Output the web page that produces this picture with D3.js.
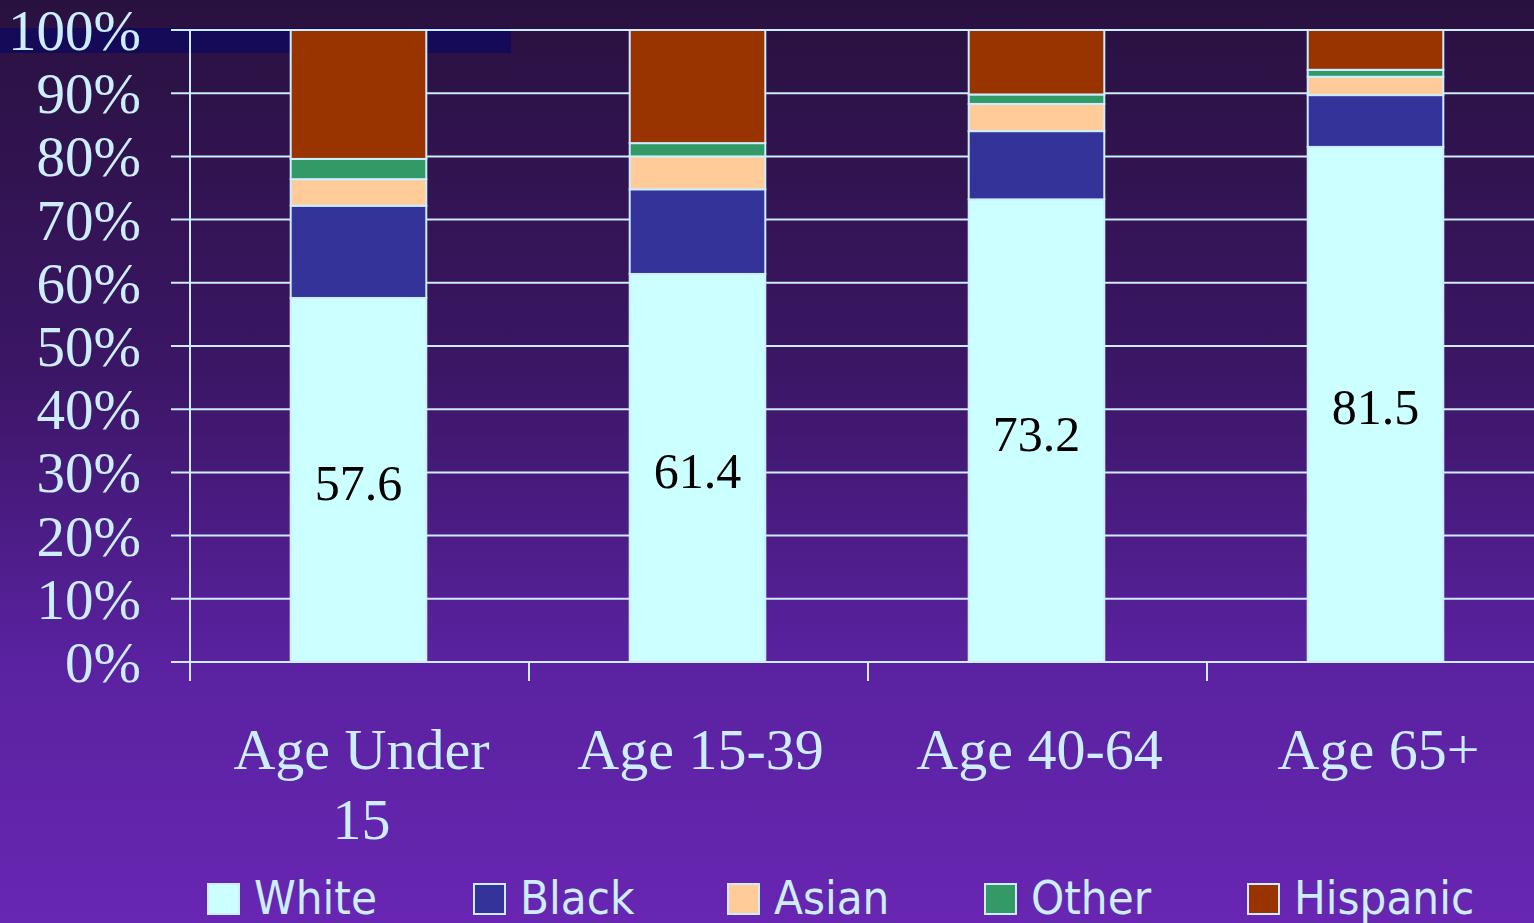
<!DOCTYPE html>
<html>
<head>
<meta charset="utf-8">
<script src="https://cdn.jsdelivr.net/npm/d3@7"></script>
<style>
  html, body { margin: 0; padding: 0; overflow: hidden; }
  svg { display: block; }
</style>
</head>
<body>
<svg id="chart" width="1534" height="923"></svg>
<script>
// Population share by race/ethnicity within each age group (percent)
const categories = [["Age Under", "15"], ["Age 15-39"], ["Age 40-64"], ["Age 65+"]];
const seriesNames = ["White", "Black", "Asian", "Other", "Hispanic"];
const white    = [57.6, 61.4, 73.2, 81.5];
const black    = [14.6, 13.4, 10.8, 8.2];
const asian    = [4.2, 5.2, 4.3, 2.9];
const other    = [3.2, 2.1, 1.5, 1.1];
const hispanic = [20.4, 17.9, 10.2, 6.3];
const yTicks = [0, 10, 20, 30, 40, 50, 60, 70, 80, 90, 100];

const colors = ["#ccffff", "#333399", "#ffcc99", "#339966", "#993300"];
const ink = "#cceeff";
const serif = "'Liberation Serif', 'Times New Roman', serif";

const W = 1534, H = 923;
const svg = d3.select("#chart");

// Background gradient
const defs = svg.append("defs");
const grad = defs.append("linearGradient").attr("id", "bg")
  .attr("x1", 0).attr("y1", 0).attr("x2", 0).attr("y2", 1);
grad.append("stop").attr("offset", "0%").attr("stop-color", "#29113f");
grad.append("stop").attr("offset", "40%").attr("stop-color", "#3b1665");
grad.append("stop").attr("offset", "72%").attr("stop-color", "#5a22a0");
grad.append("stop").attr("offset", "100%").attr("stop-color", "#6826b2");
svg.append("rect").attr("width", W).attr("height", H).attr("fill", "url(#bg)");

// Title band strip behind the top label
svg.append("rect").attr("x", 0).attr("y", 28).attr("width", 511).attr("height", 25)
  .attr("fill", "#150a58");

const rows = categories.map((c, i) => ({
  key: i,
  White: white[i], Black: black[i], Asian: asian[i], Other: other[i], Hispanic: hispanic[i]
}));

const x = d3.scaleBand().domain(d3.range(categories.length))
  .range([189, 1545]).paddingInner(0.6).paddingOuter(0.3);
const y = d3.scaleLinear().domain([0, 100]).range([662, 30]);

// Horizontal gridlines (extend left of the axis as tick marks)
svg.append("g").selectAll("line").data(yTicks).join("line")
  .attr("x1", 171).attr("x2", W)
  .attr("y1", d => y(d)).attr("y2", d => y(d))
  .attr("stroke", ink).attr("stroke-width", 2);

// Y tick labels
svg.append("g").selectAll("text").data(yTicks).join("text")
  .attr("x", 141).attr("y", d => y(d) + 20)
  .attr("text-anchor", "end")
  .attr("font-family", serif)
  .attr("font-size", 57).attr("fill", ink)
  .text(d => d + "%");

// Stacked bars
const stack = d3.stack().keys(seriesNames)(rows);
svg.append("g").selectAll("g").data(stack).join("g")
  .attr("fill", (d, i) => colors[i])
  .selectAll("rect").data(d => d).join("rect")
  .attr("x", d => x(d.data.key))
  .attr("width", x.bandwidth())
  .attr("y", d => y(d[1]))
  .attr("height", d => y(d[0]) - y(d[1]))
  .attr("stroke", ink).attr("stroke-width", 2);

// Axes lines
svg.append("line").attr("x1", 190).attr("x2", 190).attr("y1", 30).attr("y2", 681)
  .attr("stroke", ink).attr("stroke-width", 2);
svg.append("line").attr("x1", 171).attr("x2", W).attr("y1", y(0)).attr("y2", y(0))
  .attr("stroke", ink).attr("stroke-width", 2);
const step = x.step();
const boundaries = d3.range(categories.length).map(i => x(i) - x.paddingOuter() * step + 1);
svg.append("g").selectAll("line").data(boundaries).join("line")
  .attr("x1", d => d).attr("x2", d => d)
  .attr("y1", y(0)).attr("y2", 681)
  .attr("stroke", ink).attr("stroke-width", 2);

// Value labels inside the white segment
svg.append("g").selectAll("text").data(stack[0]).join("text")
  .attr("x", d => x(d.data.key) + x.bandwidth() / 2)
  .attr("y", d => (y(d[0]) + y(d[1])) / 2 + 20)
  .attr("text-anchor", "middle")
  .attr("font-family", serif)
  .attr("font-size", 50).attr("fill", "#000")
  .text(d => d3.format(".1f")(white[d.data.key]));

// Category labels
const catG = svg.append("g").selectAll("text").data(categories).join("text")
  .attr("x", (d, i) => x(i) + x.bandwidth() / 2 + 3)
  .attr("y", 769)
  .attr("text-anchor", "middle")
  .attr("font-family", serif)
  .attr("font-size", 58).attr("fill", ink);
catG.selectAll("tspan").data((d, i) => d.map(t => ({ t, i }))).join("tspan")
  .attr("x", d => x(d.i) + x.bandwidth() / 2 + 3)
  .attr("dy", (d, j) => j === 0 ? 0 : 70)
  .text(d => d.t);

// Legend
const legendX = [208, 474, 728, 985, 1248];
const lg = svg.append("g").selectAll("g").data(seriesNames).join("g")
  .attr("transform", (d, i) => `translate(${legendX[i]},0)`);
lg.append("rect").attr("x", 0).attr("y", 884).attr("width", 31).attr("height", 30)
  .attr("fill", (d, i) => colors[i]).attr("stroke", ink).attr("stroke-width", 2);
lg.append("text").attr("x", 46).attr("y", 914)
  .attr("font-family", "'Liberation Sans Narrow', 'Arial Narrow', 'DejaVu Sans Condensed', sans-serif")
  .attr("font-size", 47).attr("fill", ink)
  .text(d => d);
</script>
</body>
</html>
